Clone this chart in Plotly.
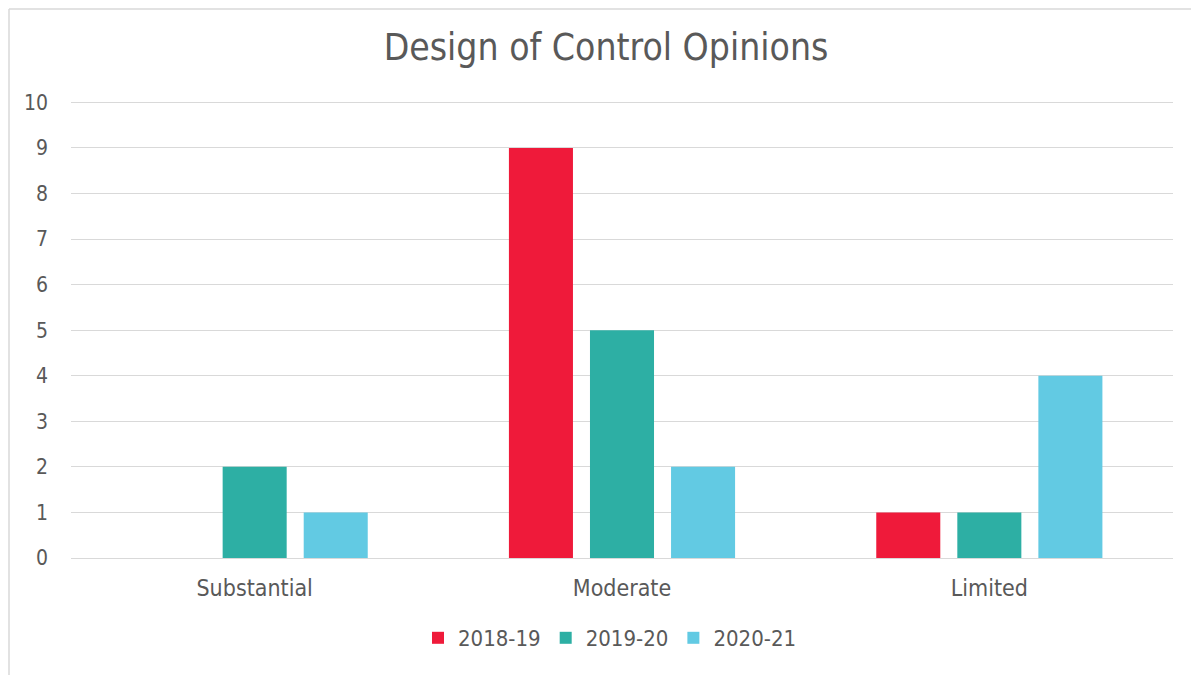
import plotly.graph_objects as go

categories = ["Substantial", "Moderate", "Limited"]
series_names = ["2018-19", "2019-20", "2020-21"]
values_2018_19 = [0, 9, 1]
values_2019_20 = [2, 5, 1]
values_2020_21 = [1, 2, 4]
colors = ["#EF1A3A", "#2DAFA4", "#62CAE3"]

OFF = 8  # page offset of the figure
W, H = 1199 - OFF, 675 - OFF
L, R, T, B = 71 - OFF, 26, 101 - OFF, 117
pw, ph = W - L - R, H - T - B

font_family = "DejaVu Sans Condensed, DejaVu Sans, sans-serif"
text_color = "#595959"

fig = go.Figure()
for name, vals, col in zip(series_names, [values_2018_19, values_2019_20, values_2020_21], colors):
    fig.add_trace(go.Bar(name=name, x=categories, y=vals, marker=dict(color=col, line=dict(width=0))))

bx0 = (1 - L) / pw
by1 = 1 + (T - 1) / ph
border = dict(color="#D9D9D9", width=1.5)

fig.update_layout(
    width=W, height=H,
    margin=dict(l=L, r=R, t=T, b=B),
    paper_bgcolor="white", plot_bgcolor="white",
    barmode="group", bargap=0.338, bargroupgap=0.21,
    font=dict(family=font_family, color=text_color, size=20),
    title=dict(text="Design of Control Opinions", x=(606 - OFF) / W, xanchor="center",
               y=1 - (47 - OFF) / H, yanchor="middle",
               font=dict(size=37, color=text_color, family=font_family)),
    legend=dict(orientation="h", x=(610 - OFF - L) / pw, xanchor="center", y=-(638 - 558) / ph, yanchor="middle",
                font=dict(size=22, color=text_color), itemwidth=30, traceorder="normal"),
    xaxis=dict(showgrid=False, showline=False, ticks="", ticklabelstandoff=14,
               tickfont=dict(size=23, color=text_color)),
    yaxis=dict(range=[0, 10.03], tickvals=list(range(0, 11)), showgrid=True, gridcolor="#D9D9D9", gridwidth=1.3,
               zeroline=True, zerolinecolor="#D9D9D9", zerolinewidth=1.3,
               showline=False, ticks="", ticklabelstandoff=22,
               tickfont=dict(size=21, color=text_color)),
    shapes=[
        dict(type="line", xref="paper", yref="paper", x0=bx0, x1=bx0, y0=-(B + 20) / ph, y1=by1,
             line=border, layer="below"),
        dict(type="line", xref="paper", yref="paper", x0=bx0, x1=1 + (R + 20) / pw, y0=by1, y1=by1,
             line=border, layer="below"),
    ],
)

fig.write_html("out.html")
